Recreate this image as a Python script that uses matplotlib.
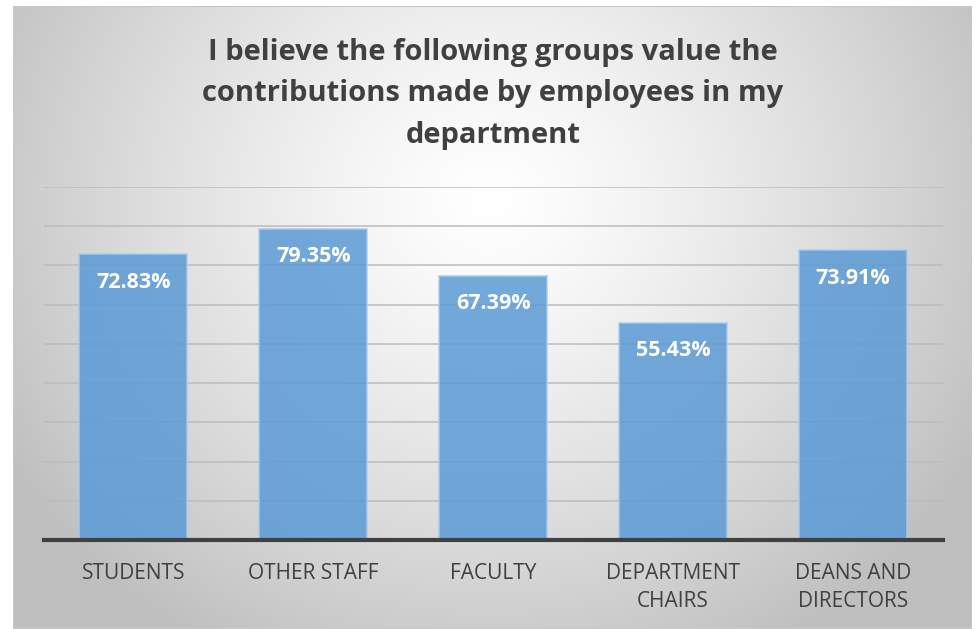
import matplotlib.pyplot as plt
import numpy as np

categories = ["STUDENTS", "OTHER STAFF", "FACULTY", "DEPARTMENT\nCHAIRS", "DEANS AND\nDIRECTORS"]
values = [72.83, 79.35, 67.39, 55.43, 73.91]
title = "I believe the following groups value the\ncontributions made by employees in my\ndepartment"

plt.rcParams['font.family'] = ['Open Sans', 'DejaVu Sans']

W, H = 979, 629
fig = plt.figure(figsize=(W / 100, H / 100), dpi=100)
fig.patch.set_facecolor('white')

# panel background with radial gradient
px0, px1, py0, py1 = 13, 972, 6, 629
bg = fig.add_axes([px0 / W, 1 - py1 / H, (px1 - px0) / W, (py1 - py0) / H])
xx, yy = np.meshgrid(np.linspace(px0, px1, 400), np.linspace(py0, py1, 300))
r = np.sqrt(((xx - 490) / 560) ** 2 + ((yy - 200) / 520) ** 2)
r = np.clip(r, 0, 1)
shade = 1.0 - 0.25 * r ** 1.3
bg.imshow(np.dstack([shade, shade, shade]), aspect='auto', extent=[0, 1, 0, 1], interpolation='bilinear')
bg.set_axis_off()
bg.add_patch(plt.Rectangle((0, 0), 1, 1, transform=bg.transAxes, fill=False, edgecolor='#c8c8c8', lw=1.5))

# plot area
ax0, ax1, ay0, ay1 = 43.5, 943, 187, 540
ax = fig.add_axes([ax0 / W, 1 - ay1 / H, (ax1 - ax0) / W, (ay1 - ay0) / H])
ax.patch.set_alpha(0)
x = np.arange(len(categories))
ax.set_xlim(-0.5, len(categories) - 0.5)
ax.set_ylim(0, 90)
ax.set_yticks(np.arange(10, 91, 10))
ax.yaxis.grid(True, color='#bcbcbc', lw=1.1)
ax.set_axisbelow(True)
ax.tick_params(axis='y', left=False, labelleft=False)
ax.tick_params(axis='x', bottom=False, pad=13)
for s in ['top', 'right', 'left']:
    ax.spines[s].set_visible(False)
ax.spines['bottom'].set_color('#404040')
ax.spines['bottom'].set_linewidth(3)
ax.spines['bottom'].set_zorder(5)

bars = ax.bar(x, values, width=0.6, color='#5b9bd5', alpha=0.85,
              edgecolor='#a9cbec', linewidth=1.2, zorder=3)
for xi, v in zip(x, values):
    ax.annotate(f"{v:.2f}%", (xi, v), xytext=(0, -28), textcoords='offset pixels',
                ha='center', va='center', color='white', fontsize=15.5, fontweight='bold', zorder=4)

ax.set_xticks(x)
ax.set_xticklabels(categories, fontsize=15, color='#404040', linespacing=1.45)

fig.text(493 / W, 1 - 94 / H, title, ha='center', va='center', fontsize=21,
         fontweight='bold', color='#404040', linespacing=1.55)

fig.savefig('out.png', dpi=100)
